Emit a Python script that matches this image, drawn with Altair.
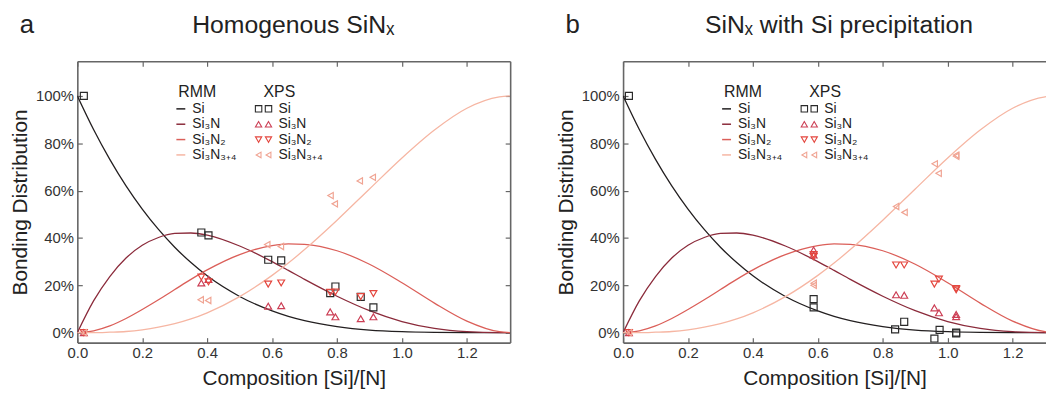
import altair as alt
import pandas as pd

FONT = "Liberation Sans"

# ---------------- RMM model curves ----------------
rmm_x = [0.0, 0.05, 0.1, 0.15, 0.2, 0.25, 0.3, 0.35, 0.4, 0.5, 0.6, 0.65, 0.7,
         0.8, 0.9, 1.0, 1.1, 1.2, 1.3, 1.333]
rmm_si = [1.0, 0.858, 0.732, 0.620, 0.522, 0.436, 0.361, 0.296, 0.240, 0.153,
          0.092, 0.069, 0.051, 0.026, 0.011, 0.004, 0.001, 0.0, 0.0, 0.0]
rmm_si3n = [0.0, 0.134, 0.237, 0.315, 0.369, 0.402, 0.419, 0.421, 0.412, 0.366,
            0.300, 0.263, 0.225, 0.154, 0.093, 0.047, 0.018, 0.004, 0.0, 0.0]
rmm_si3n2 = [0.0, 0.008, 0.029, 0.060, 0.098, 0.139, 0.182, 0.225, 0.265, 0.330,
             0.368, 0.375, 0.373, 0.346, 0.289, 0.211, 0.125, 0.049, 0.004, 0.0]
rmm_si3n34 = [0.0, 0.0, 0.002, 0.005, 0.012, 0.023, 0.038, 0.058, 0.084, 0.152,
              0.242, 0.294, 0.351, 0.475, 0.607, 0.738, 0.856, 0.948, 0.996, 1.0]

series_names = ["Si", "Si₃N", "Si₃N₂", "Si₃N₃₊₄"]

# ---------------- XPS data, panel a (homogenous) ----------------
a_si_x = [0.02, 0.382, 0.404, 0.588, 0.628, 0.779, 0.795, 0.873, 0.912]
a_si_y = [1.0, 0.423, 0.411, 0.308, 0.305, 0.167, 0.195, 0.151, 0.107]
a_si3n_x = [0.02, 0.382, 0.404, 0.588, 0.628, 0.779, 0.795, 0.873, 0.912]
a_si3n_y = [0.0, 0.21, 0.225, 0.112, 0.114, 0.088, 0.067, 0.059, 0.067]
a_si3n2_x = [0.02, 0.382, 0.404, 0.588, 0.628, 0.779, 0.795, 0.873, 0.912]
a_si3n2_y = [0.0, 0.235, 0.215, 0.205, 0.21, 0.17, 0.172, 0.152, 0.165]
a_si3n34_x = [0.02, 0.38, 0.403, 0.585, 0.627, 0.78, 0.793, 0.87, 0.91]
a_si3n34_y = [0.0, 0.139, 0.136, 0.372, 0.364, 0.579, 0.544, 0.641, 0.656]

# ---------------- XPS data, panel b (Si precipitation) ----------------
b_si_x = [0.018, 0.587, 0.587, 0.838, 0.866, 0.959, 0.975, 1.026, 1.026]
b_si_y = [1.0, 0.142, 0.107, 0.014, 0.046, -0.025, 0.012, -0.003, 0.0]
b_si3n_x = [0.018, 0.587, 0.587, 0.841, 0.866, 0.959, 0.973, 1.026, 1.026]
b_si3n_y = [0.0, 0.349, 0.328, 0.16, 0.158, 0.105, 0.084, 0.077, 0.068]
b_si3n2_x = [0.018, 0.587, 0.587, 0.841, 0.866, 0.959, 0.973, 1.026, 1.026]
b_si3n2_y = [0.0, 0.321, 0.33, 0.286, 0.286, 0.205, 0.226, 0.181, 0.186]
b_si3n34_x = [0.018, 0.587, 0.587, 0.841, 0.867, 0.960, 0.972, 1.026, 1.026]
b_si3n34_y = [0.0, 0.209, 0.20, 0.533, 0.508, 0.713, 0.673, 0.75, 0.745]

x_ticks = [0.0, 0.2, 0.4, 0.6, 0.8, 1.0, 1.2]
y_ticks = [0.0, 0.2, 0.4, 0.6, 0.8, 1.0]

title_a = "Homogenous SiNₓ"
title_b = "SiNₓ with Si precipitation"
x_title = "Composition [Si]/[N]"
y_title = "Bonding Distribution"

# ---------------- styling ----------------
LINE_COLORS = ["#231f20", "#8b2b3b", "#db5f59", "#f6b6a3"]
MARK_COLORS = ["#2a2a2a", "#cc3f55", "#e4473f", "#f0a493"]
SHAPES = ["square", "triangle-up", "triangle-down", "triangle-left"]
MARK_SIZES = [50, 48, 48, 40]
FRAME = "#666666"
TEXT = "#222222"

H = 284
W_A = 437
W_B = 427
X_FULL = 1.3333
Y_MIN, Y_MAX = -0.042, 1.146

curves = pd.DataFrame({
    "x": rmm_x * 4,
    "y": rmm_si + rmm_si3n + rmm_si3n2 + rmm_si3n34,
    "s": sum([[n] * len(rmm_x) for n in series_names], []),
})


def xps_frame(xs_list, ys_list):
    rows = []
    for name, xs, ys in zip(series_names, xs_list, ys_list):
        rows += [{"x": a, "y": b, "s": name} for a, b in zip(xs, ys)]
    return pd.DataFrame(rows)


xps_a = xps_frame([a_si_x, a_si3n_x, a_si3n2_x, a_si3n34_x],
                  [a_si_y, a_si3n_y, a_si3n2_y, a_si3n34_y])
xps_b = xps_frame([b_si_x, b_si3n_x, b_si3n2_x, b_si3n34_x],
                  [b_si_y, b_si3n_y, b_si3n2_y, b_si3n34_y])


def text_layer(txt, x, y, size, align="left"):
    return alt.Chart(pd.DataFrame({"t": [txt]})).mark_text(
        font=FONT, fontSize=size, color=TEXT, align=align, baseline="middle"
    ).encode(text="t:N", x=alt.value(x), y=alt.value(y))


def panel(xps, title, letter, width, xmax, right_frame):
    xs = alt.Scale(domain=[0, xmax], nice=False, zero=False)
    ys = alt.Scale(domain=[Y_MIN, Y_MAX], nice=False, zero=False)

    def X(axis):
        return alt.X("x:Q", scale=xs, axis=axis)

    def Y(axis):
        return alt.Y("y:Q", scale=ys, axis=axis)

    def holder():
        # invisible, clipped carrier for an axis
        return alt.Chart(xps).mark_point(opacity=0, clip=True, size=1)

    layers = []
    # main labelled axes
    layers.append(holder().encode(
        x=X(alt.Axis(orient="bottom", values=x_ticks, format=".1f", title=x_title,
                     ticks=False, domain=False, labelPadding=3, titlePadding=7,
                     titleFontSize=21, labelFlush=False, labelOverlap=False)),
        y=Y(alt.Axis(orient="left", values=y_ticks, format=".0%", title=y_title,
                     ticks=False, domain=False, labelPadding=4, titlePadding=5,
                     labelOverlap=False)),
    ))
    frame = dict(labels=False, title=None, ticks=True, domain=True, tickSize=5,
                 tickWidth=1.2, tickColor=FRAME, domainColor=FRAME, domainWidth=1.6)
    # inward ticks + frame lines
    layers.append(holder().encode(
        x=X(alt.Axis(orient="top", offset=-H, values=x_ticks, **frame)), y=Y(None)))
    layers.append(holder().encode(
        x=X(alt.Axis(orient="bottom", offset=-H, values=x_ticks, **frame)), y=Y(None)))
    layers.append(holder().encode(
        y=Y(alt.Axis(orient="right", offset=-width, values=y_ticks, **frame)), x=X(None)))
    if right_frame:
        layers.append(holder().encode(
            y=Y(alt.Axis(orient="left", offset=-width, values=y_ticks, **frame)), x=X(None)))

    # RMM curves
    for i, s in enumerate(series_names):
        layers.append(alt.Chart(curves).transform_filter(alt.datum.s == s).mark_line(
            color=LINE_COLORS[i], strokeWidth=1.3, clip=True, interpolate="monotone"
        ).encode(x=X(None), y=Y(None)))
    # XPS points
    for i, s in enumerate(series_names):
        layers.append(alt.Chart(xps).transform_filter(alt.datum.s == s).mark_point(
            shape=SHAPES[i], color=MARK_COLORS[i], filled=False, size=MARK_SIZES[i],
            strokeWidth=1.2, clip=True, opacity=1
        ).encode(x=X(None), y=Y(None)))

    # legend
    one = pd.DataFrame({"k": [0]})
    layers.append(text_layer("RMM", 121, 31, 16, "center"))
    layers.append(text_layer("XPS", 204, 31, 16, "center"))
    rows_y = [48, 63.5, 79, 94.5]
    for i, s in enumerate(series_names):
        ry = rows_y[i]
        layers.append(alt.Chart(one).mark_rule(color=LINE_COLORS[i], strokeWidth=1.5).encode(
            x=alt.value(100), x2=alt.value(109), y=alt.value(ry)))
        layers.append(text_layer(s, 116, ry, 14))
        for mx in (183, 193):
            layers.append(alt.Chart(one).mark_point(
                shape=SHAPES[i], color=MARK_COLORS[i], filled=False,
                size=MARK_SIZES[i] - 8, strokeWidth=1.1, opacity=1
            ).encode(x=alt.value(mx), y=alt.value(ry)))
        layers.append(text_layer(s, 203, ry, 14))

    # titles
    layers.append(text_layer(title, 218, -37, 25, "center"))
    layers.append(text_layer(letter, -51, -37, 26, "center"))

    return alt.layer(*layers).resolve_axis(x="independent", y="independent").properties(
        width=width, height=H)


pa = panel(xps_a, title_a, "a", W_A, X_FULL, True)
pb = panel(xps_b, title_b, "b", W_B, X_FULL * W_B / W_A, False)

chart = alt.hconcat(pa, pb, spacing=44).properties(
    padding={"left": 1, "top": 2, "right": 0, "bottom": 0}
).configure_view(stroke=None).configure_axis(
    labelFont=FONT, titleFont=FONT, labelFontSize=15, titleFontSize=21,
    labelColor="#333333", titleColor=TEXT, titleFontWeight="normal", grid=False
)

chart.save("out.html", embed_options={"renderer": "svg", "actions": False})
